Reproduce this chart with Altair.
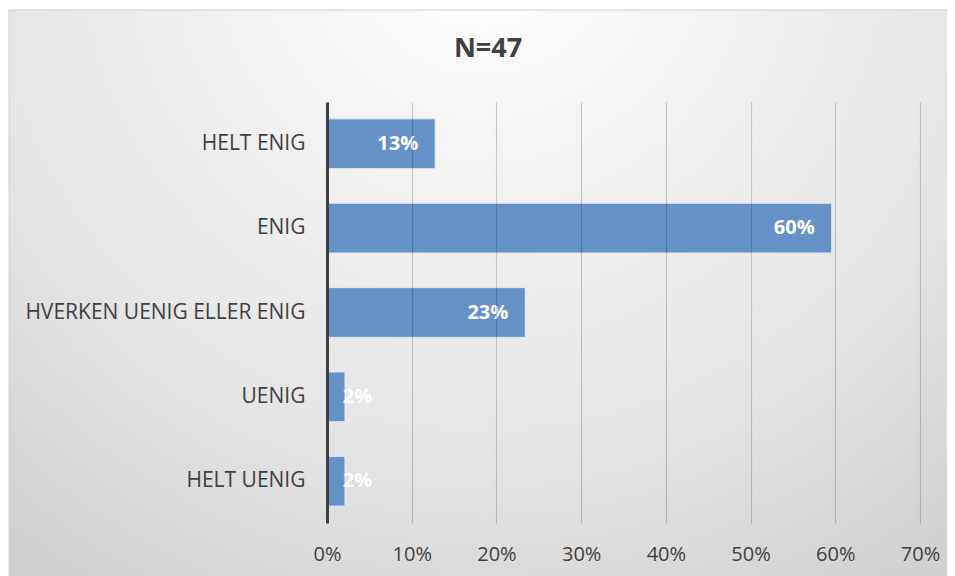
import altair as alt
import pandas as pd

categories = ["HELT ENIG", "ENIG", "HVERKEN UENIG ELLER ENIG", "UENIG", "HELT UENIG"]
values = [6 / 47, 28 / 47, 11 / 47, 1 / 47, 1 / 47]
labels = ["13%", "60%", "23%", "2%", "2%"]
title_text = "N=47"

df = pd.DataFrame({"cat": categories, "value": values, "label": labels})

FONT = "Open Sans"
W, H = 593, 421
PL, PT, PR, PB = 319, 94, 27, 53

bg = alt.Chart(alt.Data(values=[{}])).mark_rect(
    fill=alt.Gradient(
        gradient="radial",
        stops=[
            alt.GradientStop(offset=0, color="#ffffff"),
            alt.GradientStop(offset=0.55, color="#e6e6e6"),
            alt.GradientStop(offset=1, color="#c6c6c6"),
        ],
        x1=0.5, y1=0.12, r1=0, x2=0.5, y2=0.12, r2=0.95,
    ),
    stroke="#d0d0d0",
    strokeWidth=1,
).encode(
    x=alt.value(-PL + 1), x2=alt.value(W + PR + 10),
    y=alt.value(-PT + 2), y2=alt.value(H + PB + 10),
)

title = alt.Chart(alt.Data(values=[{"t": title_text}])).mark_text(
    font=FONT, fontSize=27, fontWeight="bold", color="#404040",
    align="center", baseline="middle",
).encode(
    x=alt.value(161), y=alt.value(-53), text="t:N",
)

base = alt.Chart(df)

y_enc = alt.Y(
    "cat:N", sort=categories, title=None,
    scale=alt.Scale(paddingInner=0.41, paddingOuter=0.2),
    axis=alt.Axis(
        domain=True, domainColor="#404040", domainWidth=3, ticks=False,
        labelFont=FONT, labelFontSize=21, labelColor="#404040", labelPadding=22,
        labelLimit=400, zindex=2,
    ),
)

bars = base.mark_bar(color="#6591c7", stroke="#e4ecf6", strokeWidth=1).encode(
    x=alt.X(
        "value:Q", title=None,
        scale=alt.Scale(domain=[0, 0.7], nice=False),
        axis=alt.Axis(
            format="%", values=[0, 0.1, 0.2, 0.3, 0.4, 0.5, 0.6, 0.7],
            domain=False, ticks=False, grid=True, gridColor="#000000",
            gridOpacity=0.18, gridWidth=1.2, zindex=1, labelFlush=False,
            labelFont=FONT, labelFontSize=20, labelColor="#404040", labelPadding=21,
        ),
    ),
    y=y_enc,
)

text = base.transform_calculate(
    lx="max(datum.value, 0.0735)"
).mark_text(
    align="right", baseline="middle", dx=-17, color="white",
    font=FONT, fontSize=20, fontWeight="bold",
).encode(
    x="lx:Q",
    y=alt.Y("cat:N", sort=categories),
    text="label:N",
)

chart = alt.layer(bg, title, bars, text).properties(
    width=W, height=H,
    padding={"left": PL, "top": PT, "right": PR, "bottom": PB},
    autosize=alt.AutoSizeParams(type="none"),
).configure_view(stroke=None).configure(background="#ffffff")

chart.save("out.html", embed_options={"renderer": "svg", "actions": False})
